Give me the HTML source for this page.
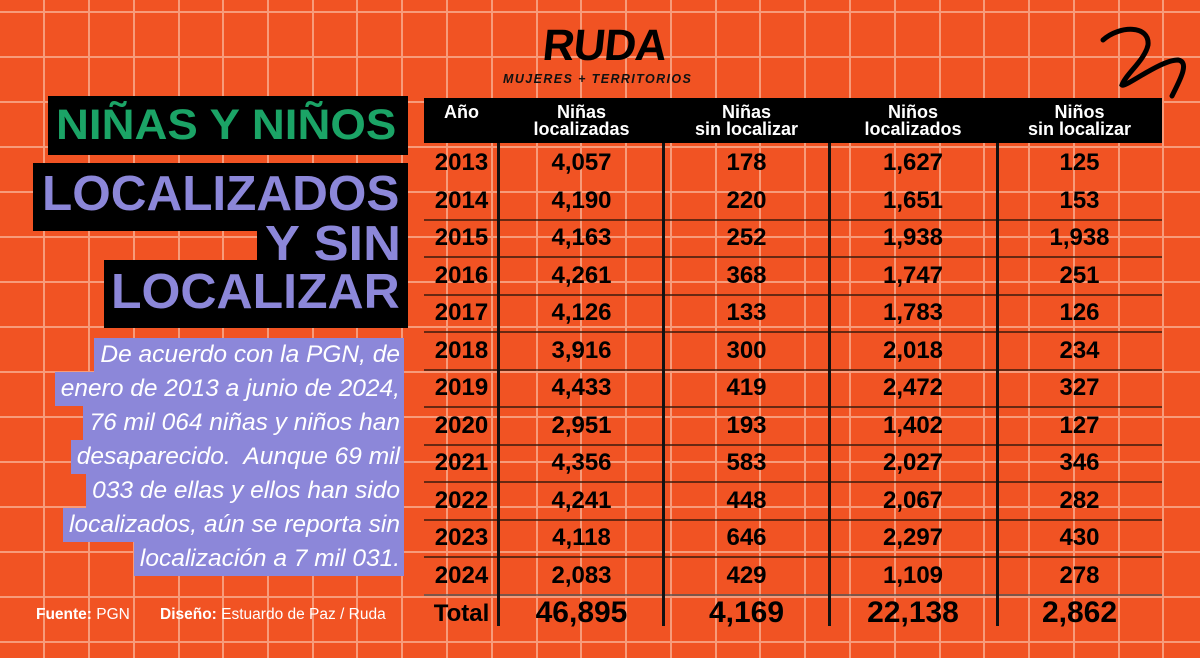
<!DOCTYPE html>
<html><head><meta charset="utf-8"><style>
*{margin:0;padding:0;box-sizing:border-box}
body{width:1200px;height:658px;overflow:hidden;background:#f15323;position:relative;font-family:"Liberation Sans",sans-serif}
.grid{position:absolute;left:0;top:0}
.box{position:absolute;background:#000}
.t{position:absolute;font-weight:bold;white-space:nowrap;line-height:1}
.green{color:#1ba466}
.purple{color:#8c87d9}
.pl{position:absolute;right:796px;height:34px;background:#8c87d9;color:#fff;font-style:italic;font-size:24.5px;line-height:34px;padding:0 4px 0 6px;white-space:nowrap}
.hdr{position:absolute;color:#fff;font-weight:bold;font-size:18px;line-height:17px;text-align:center;font-family:"Liberation Sans Narrow","Liberation Sans",sans-serif}
.c{position:absolute;text-align:center;font-weight:bold;font-size:24px;font-family:"Liberation Sans Narrow","Liberation Sans",sans-serif;color:#000;line-height:1}
.rl{position:absolute;left:424px;width:738px;height:2px;background:#3a1a0e;opacity:.75}
.vl{position:absolute;top:143px;height:483px;width:3px;background:#111}
.foot{position:absolute;top:606px;color:#fff;font-size:15.5px}
</style></head><body>
<svg class="grid" width="1200" height="658">
<g stroke="#f9a88a" stroke-width="2" opacity=".85">
<line x1="44" y1="0" x2="44" y2="658"/><line x1="89" y1="0" x2="89" y2="658"/><line x1="134" y1="0" x2="134" y2="658"/><line x1="179" y1="0" x2="179" y2="658"/><line x1="223" y1="0" x2="223" y2="658"/><line x1="268" y1="0" x2="268" y2="658"/><line x1="313" y1="0" x2="313" y2="658"/><line x1="357" y1="0" x2="357" y2="658"/><line x1="402" y1="0" x2="402" y2="658"/><line x1="447" y1="0" x2="447" y2="658"/><line x1="492" y1="0" x2="492" y2="658"/><line x1="537" y1="0" x2="537" y2="658"/><line x1="581" y1="0" x2="581" y2="658"/><line x1="626" y1="0" x2="626" y2="658"/><line x1="671" y1="0" x2="671" y2="658"/><line x1="716" y1="0" x2="716" y2="658"/><line x1="760" y1="0" x2="760" y2="658"/><line x1="805" y1="0" x2="805" y2="658"/><line x1="850" y1="0" x2="850" y2="658"/><line x1="895" y1="0" x2="895" y2="658"/><line x1="940" y1="0" x2="940" y2="658"/><line x1="984" y1="0" x2="984" y2="658"/><line x1="1029" y1="0" x2="1029" y2="658"/><line x1="1074" y1="0" x2="1074" y2="658"/><line x1="1119" y1="0" x2="1119" y2="658"/><line x1="1163" y1="0" x2="1163" y2="658"/>
<line x1="0" y1="12" x2="1200" y2="12"/><line x1="0" y1="57" x2="1200" y2="57"/><line x1="0" y1="102" x2="1200" y2="102"/><line x1="0" y1="147" x2="1200" y2="147"/><line x1="0" y1="192" x2="1200" y2="192"/><line x1="0" y1="237" x2="1200" y2="237"/><line x1="0" y1="282" x2="1200" y2="282"/><line x1="0" y1="327" x2="1200" y2="327"/><line x1="0" y1="372" x2="1200" y2="372"/><line x1="0" y1="417" x2="1200" y2="417"/><line x1="0" y1="462" x2="1200" y2="462"/><line x1="0" y1="507" x2="1200" y2="507"/><line x1="0" y1="552" x2="1200" y2="552"/><line x1="0" y1="597" x2="1200" y2="597"/><line x1="0" y1="642" x2="1200" y2="642"/>
</g>
<path d="M1103 40 C1120 25,1150 25,1148 45 C1145 60,1125 75,1122 85 C1125 88,1160 60,1178 60 C1190 62,1180 80,1172 96" fill="none" stroke="#000" stroke-width="5" stroke-linecap="round"/>
</svg>

<div class="t" style="left:543px;top:24px;font-size:44px;font-family:'Liberation Sans Narrow','Liberation Sans',sans-serif;letter-spacing:-1px;color:#000;transform:skewX(-6deg)">RUDA</div>
<div class="t" style="left:503px;top:73px;font-size:12.5px;font-style:italic;letter-spacing:1.4px;color:#111">MUJERES + TERRITORIOS</div>

<div class="box" style="left:48px;top:96px;width:360px;height:59px"></div>
<div class="t green" style="left:56px;top:104px;font-size:43px;transform-origin:left top;transform:scaleX(1.06)">NIÑAS Y NIÑOS</div>

<div class="box" style="left:33px;top:163px;width:375px;height:68px"></div>
<div class="box" style="left:257px;top:228px;width:151px;height:34px"></div>
<div class="box" style="left:104px;top:260px;width:304px;height:68px"></div>
<div class="t purple" style="left:42px;top:170px;font-size:49px;transform-origin:left top;transform:scaleX(1.01)">LOCALIZADOS</div>
<div class="t purple" style="left:265px;top:220px;font-size:49px;transform-origin:left top;transform:scaleX(1.07)">Y SIN</div>
<div class="t purple" style="left:111px;top:268px;font-size:49px;transform-origin:left top;transform:scaleX(1.02)">LOCALIZAR</div>

<div class="pl" style="top:338px">De acuerdo con la PGN, de</div>
<div class="pl" style="top:372px">enero de 2013 a junio de 2024,</div>
<div class="pl" style="top:406px">76 mil 064 niñas y niños han</div>
<div class="pl" style="top:440px">desaparecido.&nbsp; Aunque 69 mil</div>
<div class="pl" style="top:474px">033 de ellas y ellos han sido</div>
<div class="pl" style="top:508px">localizados, aún se reporta sin</div>
<div class="pl" style="top:542px">localización a 7 mil 031.</div>

<div class="foot" style="left:36px"><b>Fuente:</b> PGN</div>
<div class="foot" style="left:160px"><b>Diseño:</b> Estuardo de Paz / Ruda</div>

<div class="box" style="left:424px;top:98px;width:738px;height:45px"></div>
<div class="hdr" style="left:424px;top:104px;width:75px">Año</div>
<div class="hdr" style="left:499px;top:104px;width:165px">Niñas<br>localizadas</div>
<div class="hdr" style="left:664px;top:104px;width:165px">Niñas<br>sin localizar</div>
<div class="hdr" style="left:829px;top:104px;width:168px">Niños<br>localizados</div>
<div class="hdr" style="left:997px;top:104px;width:165px">Niños<br>sin localizar</div>

<div class="rl" style="top:219px"></div><div class="rl" style="top:256px"></div><div class="rl" style="top:294px"></div><div class="rl" style="top:331px"></div><div class="rl" style="top:369px"></div><div class="rl" style="top:406px"></div><div class="rl" style="top:444px"></div><div class="rl" style="top:481px"></div><div class="rl" style="top:519px"></div><div class="rl" style="top:556px"></div><div class="rl" style="top:594px;background:#555"></div>
<div class="vl" style="left:497px"></div><div class="vl" style="left:662px"></div><div class="vl" style="left:828px"></div><div class="vl" style="left:996px"></div>

<div class="c" style="left:424px;top:151px;width:75px">2013</div><div class="c" style="left:499px;top:151px;width:165px">4,057</div><div class="c" style="left:664px;top:151px;width:165px">178</div><div class="c" style="left:829px;top:151px;width:168px">1,627</div><div class="c" style="left:997px;top:151px;width:165px">125</div>
<div class="c" style="left:424px;top:189px;width:75px">2014</div><div class="c" style="left:499px;top:189px;width:165px">4,190</div><div class="c" style="left:664px;top:189px;width:165px">220</div><div class="c" style="left:829px;top:189px;width:168px">1,651</div><div class="c" style="left:997px;top:189px;width:165px">153</div>
<div class="c" style="left:424px;top:226px;width:75px">2015</div><div class="c" style="left:499px;top:226px;width:165px">4,163</div><div class="c" style="left:664px;top:226px;width:165px">252</div><div class="c" style="left:829px;top:226px;width:168px">1,938</div><div class="c" style="left:997px;top:226px;width:165px">1,938</div>
<div class="c" style="left:424px;top:264px;width:75px">2016</div><div class="c" style="left:499px;top:264px;width:165px">4,261</div><div class="c" style="left:664px;top:264px;width:165px">368</div><div class="c" style="left:829px;top:264px;width:168px">1,747</div><div class="c" style="left:997px;top:264px;width:165px">251</div>
<div class="c" style="left:424px;top:301px;width:75px">2017</div><div class="c" style="left:499px;top:301px;width:165px">4,126</div><div class="c" style="left:664px;top:301px;width:165px">133</div><div class="c" style="left:829px;top:301px;width:168px">1,783</div><div class="c" style="left:997px;top:301px;width:165px">126</div>
<div class="c" style="left:424px;top:339px;width:75px">2018</div><div class="c" style="left:499px;top:339px;width:165px">3,916</div><div class="c" style="left:664px;top:339px;width:165px">300</div><div class="c" style="left:829px;top:339px;width:168px">2,018</div><div class="c" style="left:997px;top:339px;width:165px">234</div>
<div class="c" style="left:424px;top:376px;width:75px">2019</div><div class="c" style="left:499px;top:376px;width:165px">4,433</div><div class="c" style="left:664px;top:376px;width:165px">419</div><div class="c" style="left:829px;top:376px;width:168px">2,472</div><div class="c" style="left:997px;top:376px;width:165px">327</div>
<div class="c" style="left:424px;top:414px;width:75px">2020</div><div class="c" style="left:499px;top:414px;width:165px">2,951</div><div class="c" style="left:664px;top:414px;width:165px">193</div><div class="c" style="left:829px;top:414px;width:168px">1,402</div><div class="c" style="left:997px;top:414px;width:165px">127</div>
<div class="c" style="left:424px;top:451px;width:75px">2021</div><div class="c" style="left:499px;top:451px;width:165px">4,356</div><div class="c" style="left:664px;top:451px;width:165px">583</div><div class="c" style="left:829px;top:451px;width:168px">2,027</div><div class="c" style="left:997px;top:451px;width:165px">346</div>
<div class="c" style="left:424px;top:489px;width:75px">2022</div><div class="c" style="left:499px;top:489px;width:165px">4,241</div><div class="c" style="left:664px;top:489px;width:165px">448</div><div class="c" style="left:829px;top:489px;width:168px">2,067</div><div class="c" style="left:997px;top:489px;width:165px">282</div>
<div class="c" style="left:424px;top:526px;width:75px">2023</div><div class="c" style="left:499px;top:526px;width:165px">4,118</div><div class="c" style="left:664px;top:526px;width:165px">646</div><div class="c" style="left:829px;top:526px;width:168px">2,297</div><div class="c" style="left:997px;top:526px;width:165px">430</div>
<div class="c" style="left:424px;top:564px;width:75px">2024</div><div class="c" style="left:499px;top:564px;width:165px">2,083</div><div class="c" style="left:664px;top:564px;width:165px">429</div><div class="c" style="left:829px;top:564px;width:168px">1,109</div><div class="c" style="left:997px;top:564px;width:165px">278</div>
<div class="c" style="left:424px;top:602px;width:75px">Total</div><div class="c" style="left:499px;top:598px;width:165px;font-size:30px">46,895</div><div class="c" style="left:664px;top:598px;width:165px;font-size:30px">4,169</div><div class="c" style="left:829px;top:598px;width:168px;font-size:30px">22,138</div><div class="c" style="left:997px;top:598px;width:165px;font-size:30px">2,862</div>
</body></html>
